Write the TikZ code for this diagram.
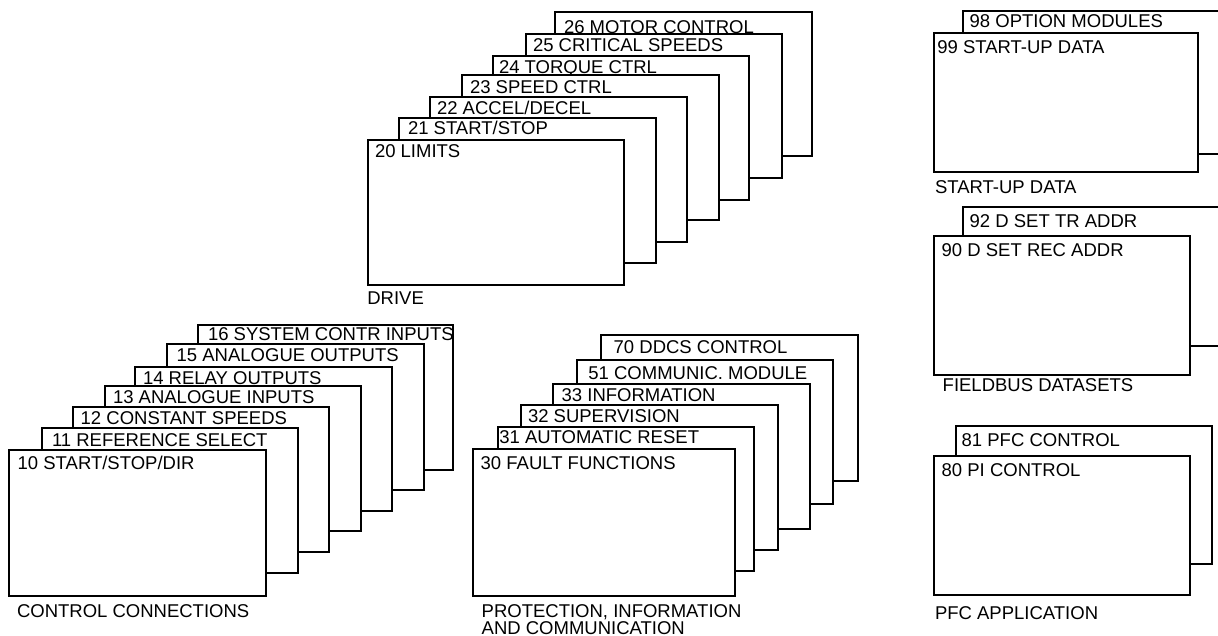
\documentclass[tikz,border=0pt]{standalone}
\usepackage{fontspec}
\setmainfont{Liberation Sans}
\tikzset{
  pbox/.style={draw=black, fill=white, line width=2pt, rectangle, inner sep=0pt, outer sep=0pt, anchor=north west},
  ptext/.style={anchor=base west, inner sep=0pt, outer sep=0pt, font=\fontsize{18.5}{20}\selectfont},
}
% #1 name, #2 x, #3 y (top), #4 width, #5 height, #6 text dx, #7 text dy, #8 text
\newcommand\stackbox[8]{%
  \node[pbox, minimum width=#4pt, minimum height=#5pt] (#1) at (#2,#3) {};
  \node[ptext] (t#1) at ([xshift=#6pt,yshift=-#7pt]#1.north west) {#8};
}
\begin{document}
\begin{tikzpicture}[x=1pt,y=-1pt]
\useasboundingbox (0,0) rectangle (1218,636);
\clip (0,0) rectangle (1218,636);
% DRIVE
\stackbox{b26}{555}{12}{257}{144}{9}{21.3}{26 MOTOR CONTROL}
\stackbox{b25}{526}{33.7}{256}{144}{7}{18}{25 CRITICAL SPEEDS}
\stackbox{b24}{493}{56}{256}{144}{6}{18}{24 TORQUE CTRL}
\stackbox{b23}{462}{75.3}{257}{145}{8}{18}{23 SPEED CTRL}
\stackbox{b22}{430}{97.3}{257}{145}{7}{17.7}{22 ACCEL/DECEL}
\stackbox{b21}{399}{118}{257}{145}{9}{17}{21 START/STOP}
\stackbox{b20}{367.5}{140}{256.5}{145}{7.5}{17.7}{20 LIMITS}
\node[ptext] (drive) at (367.3,305) {DRIVE};
% CONTROL CONNECTIONS
\stackbox{b16}{198}{325}{255}{145}{10}{15}{16 SYSTEM CONTR INPUTS}
\stackbox{b15}{167}{344}{257}{146}{9.7}{17.7}{15 ANALOGUE OUTPUTS}
\stackbox{b14}{135}{366.7}{257}{144}{8}{17.3}{14 RELAY OUTPUTS}
\stackbox{b13}{105}{386}{256}{145}{8}{17.3}{13 ANALOGUE INPUTS}
\stackbox{b12}{73}{407.3}{256}{145}{7.7}{16.7}{12 CONSTANT SPEEDS}
\stackbox{b11}{42}{428.3}{256}{145}{10}{18.3}{11 REFERENCE SELECT}
\stackbox{b10}{9.3}{450}{256.7}{146}{8.4}{19}{10 START/STOP/DIR}
\node[ptext] (control) at (17,617) {CONTROL CONNECTIONS};
% PROTECTION
\stackbox{b70}{600.7}{335}{257}{145.7}{13}{18.3}{70 DDCS CONTROL}
\stackbox{b51}{576.7}{360}{256}{144}{11.7}{19.3}{51 COMMUNIC. MODULE}
\stackbox{b33}{552.7}{384.3}{257.3}{145}{9}{17.3}{33 INFORMATION}
\stackbox{b32}{521}{405}{257.3}{145}{7}{17.7}{32 SUPERVISION}
\stackbox{b31}{497.7}{426.7}{256.3}{144}{1.6}{16.7}{31 AUTOMATIC RESET}
\stackbox{b30}{472.7}{449.3}{262.3}{146.7}{8}{19.7}{30 FAULT FUNCTIONS}
\node[ptext] (prot1) at (481.7,617) {PROTECTION, INFORMATION};
\node[ptext] (prot2) at (481.7,634.2) {AND COMMUNICATION};
% START-UP DATA
\stackbox{b98}{962.7}{11}{280}{143}{7}{16.3}{98 OPTION MODULES}
\stackbox{b99}{934}{32.7}{263.7}{139}{3.3}{21.3}{99 START-UP DATA}
\node[ptext] (startup) at (935,193.3) {START-UP DATA};
% FIELDBUS
\stackbox{b92}{962.7}{206.7}{280}{139}{7}{21}{92 D SET TR ADDR}
\stackbox{b90}{934}{236}{256}{139}{7.7}{20.7}{90 D SET REC ADDR}
\node[ptext] (fieldbus) at (942.7,391.7) {FIELDBUS DATASETS};
% PFC
\stackbox{b81}{955.7}{425.7}{256}{138.6}{6}{21}{81 PFC CONTROL}
\stackbox{b80}{934}{456}{256}{139}{7.7}{20.7}{80 PI CONTROL}
\node[ptext] (pfc) at (935,619) {PFC APPLICATION};
\end{tikzpicture}
\end{document}
